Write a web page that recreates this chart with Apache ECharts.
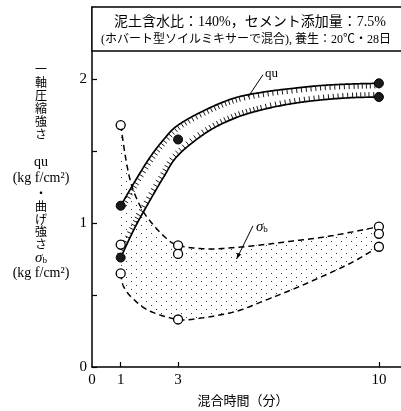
<!DOCTYPE html>
<html>
<head>
<meta charset="utf-8">
<script src="https://cdn.jsdelivr.net/npm/echarts@6/dist/echarts.min.js"></script>
<style>
html, body { margin: 0; padding: 0; background: #fff; }
#c { width: 401px; height: 411px; }
</style>
</head>
<body>
<div id="c"></div>
<script>
// Axis ticks and labels (mixing time in minutes, strength in kgf/cm2)
const xTickValues = [1, 3, 10];
const xLabelValues = [0, 1, 3, 10];
const yLabelValues = [0, 1, 2];

// Measured unconfined compressive strength qu (filled markers)
const quPoints = [[1, 1.12], [1, 0.76], [3, 1.58], [10, 1.97], [10, 1.875]];
// Measured bending strength sigma_b (open markers)
const sbPoints = [[1, 1.68], [1, 0.85], [1, 0.65], [3, 0.845], [3, 0.785], [3, 0.33], [10, 0.975], [10, 0.925], [10, 0.835]];

// Envelope of the qu band
const quUpper = [[1, 1.12], [1.5, 1.29], [2, 1.45], [2.5, 1.58], [3, 1.68], [4, 1.79], [5, 1.87], [6, 1.91], [7, 1.935], [8, 1.955], [9, 1.965], [10, 1.97]];
const quLower = [[1, 0.76], [1.5, 0.97], [2, 1.15], [2.5, 1.32], [3, 1.47], [4, 1.63], [5, 1.73], [6, 1.79], [7, 1.83], [8, 1.855], [9, 1.87], [10, 1.875]];

// Envelope of the sigma_b band
const sbUpper = [[1, 1.68], [1.2, 1.42], [1.4, 1.25], [1.7, 1.11], [2, 1.02], [2.5, 0.91], [3, 0.845], [4, 0.82], [5, 0.83], [6, 0.85], [7, 0.875], [8, 0.9], [9, 0.935], [10, 0.975]];
const sbLower = [[1, 0.65], [1.1, 0.56], [1.4, 0.48], [2, 0.39], [3, 0.33], [3.8, 0.34], [5, 0.385], [6, 0.46], [7, 0.54], [7.7, 0.6], [9, 0.72], [10, 0.835]];

// Leader lines for the two band labels
const quLeader = [[5.44, 1.875], [5.96, 2.03]];
const sbLeader = [[5.61, 0.98], [5.04, 0.75]];

const chart = echarts.init(document.getElementById('c'), null, { renderer: 'canvas' });

// stipple pattern for the sigma_b band
function makeStipple() {
  const cv = document.createElement('canvas');
  cv.width = 10; cv.height = 8;
  const g = cv.getContext('2d');
  g.fillStyle = '#333';
  g.fillRect(1, 1, 1, 1);
  g.fillRect(6, 5, 1, 1);
  return cv;
}
const stipple = makeStipple();

// Catmull-Rom spline through pixel points
function spline(pts, seg) {
  const out = [];
  for (let i = 0; i < pts.length - 1; i++) {
    const p0 = pts[i - 1] || pts[i], p1 = pts[i], p2 = pts[i + 1], p3 = pts[i + 2] || pts[i + 1];
    for (let s = 0; s < seg; s++) {
      const t = s / seg, t2 = t * t, t3 = t2 * t;
      const f = k => 0.5 * (2 * p1[k] + (-p0[k] + p2[k]) * t + (2 * p0[k] - 5 * p1[k] + 4 * p2[k] - p3[k]) * t2 + (-p0[k] + 3 * p1[k] - 3 * p2[k] + p3[k]) * t3);
      out.push([f(0), f(1)]);
    }
  }
  out.push(pts[pts.length - 1].slice());
  return out;
}

// short hatch strokes along one side of a curve
function hatch(samples, dir, spacing, len) {
  const els = [];
  let acc = spacing / 2;
  for (let i = 1; i < samples.length; i++) {
    const dx = samples[i][0] - samples[i - 1][0];
    const dy = samples[i][1] - samples[i - 1][1];
    const L = Math.hypot(dx, dy);
    acc += L;
    if (acc >= spacing && L > 0) {
      acc = 0;
      const nx = -dy / L * dir, ny = dx / L * dir;
      const p = samples[i];
      els.push({
        type: 'line',
        shape: { x1: p[0] + nx * 0.5, y1: p[1] + ny * 0.5, x2: p[0] + nx * len, y2: p[1] + ny * len },
        style: { stroke: '#000', lineWidth: 0.9 }
      });
    }
  }
  return els;
}

function renderBands(params, api) {
  const px = arr => arr.map(p => api.coord(p));
  const sU = spline(px(sbUpper), 24);
  const sL = spline(px(sbLower), 24);
  const qU = spline(px(quUpper), 24);
  const qL = spline(px(quLower), 24);
  const children = [];

  // stippled sigma_b band
  children.push({
    type: 'polygon',
    shape: { points: sU.concat(sL.slice().reverse()) },
    style: { fill: { image: stipple, repeat: 'repeat' }, stroke: null },
    z2: 1
  });
  const dashStyle = { stroke: '#000', lineWidth: 1.5, lineDash: [6, 4], fill: null };
  children.push({ type: 'polyline', shape: { points: sU }, style: dashStyle, z2: 2 });
  children.push({ type: 'polyline', shape: { points: sL }, style: dashStyle, z2: 2 });

  // hatched qu band
  hatch(qU, 1, 3.7, 5).forEach(e => children.push(e));
  hatch(qL, -1, 3.7, 5).forEach(e => children.push(e));
  const solid = { stroke: '#000', lineWidth: 1.7, fill: null };
  children.push({ type: 'polyline', shape: { points: qU }, style: solid, z2: 3 });
  children.push({ type: 'polyline', shape: { points: qL }, style: solid, z2: 3 });

  // leaders
  const a = px(quLeader);
  children.push({ type: 'line', shape: { x1: a[0][0], y1: a[0][1], x2: a[1][0], y2: a[1][1] }, style: { stroke: '#000', lineWidth: 1 } });
  const b = px(sbLeader);
  children.push({ type: 'line', shape: { x1: b[0][0], y1: b[0][1], x2: b[1][0], y2: b[1][1] }, style: { stroke: '#000', lineWidth: 1 } });
  const ang = Math.atan2(b[1][1] - b[0][1], b[1][0] - b[0][0]);
  const tip = b[1], hl = 6, hw = 2.2;
  const bx = tip[0] - Math.cos(ang) * hl, by = tip[1] - Math.sin(ang) * hl;
  children.push({
    type: 'polygon',
    shape: { points: [tip, [bx - Math.sin(ang) * hw, by + Math.cos(ang) * hw], [bx + Math.sin(ang) * hw, by - Math.cos(ang) * hw]] },
    style: { fill: '#000' }
  });

  // band labels
  children.push({
    type: 'text',
    style: { text: 'qu', x: a[1][0] + 2, y: a[1][1] - 1, font: '13px "Liberation Serif", serif', fill: '#000', verticalAlign: 'middle', align: 'left' }
  });
  children.push({
    type: 'text',
    style: {
      text: '{s|σ}{b|b}', x: b[0][0] + 3, y: b[0][1] + 1, verticalAlign: 'middle', align: 'left',
      rich: {
        s: { font: 'italic 15px "Liberation Serif", serif', fill: '#000' },
        b: { font: '9px "Liberation Serif", serif', fill: '#000', padding: [6, 0, 0, 0] }
      }
    }
  });
  return { type: 'group', children: children };
}

const serif = '"Liberation Serif", "Noto Sans CJK JP", serif';
const cjk = '"Liberation Serif", "Noto Sans CJK JP", sans-serif';

// vertical y-axis title, one glyph per row
const yTitle = [
  ['一', 71], ['軸', 84], ['圧', 97], ['縮', 110], ['強', 123], ['さ', 136],
  ['qu', 162], ['(kg f/cm²)', 178], ['・', 195],
  ['曲', 208], ['げ', 220.5], ['強', 233], ['さ', 245.5], ['(kg f/cm²)', 273]
];

const graphics = yTitle.map(([t, y]) => ({
  type: 'text',
  style: {
    text: t, x: 41, y: y, align: 'center', verticalAlign: 'middle',
    font: (t.length > 1 ? '14px ' : '12px ') + cjk, fill: '#000'
  }
}));
graphics.push({
  type: 'text',
  style: {
    text: '{s|σ}{b|b}', x: 41, y: 258, align: 'center', verticalAlign: 'middle',
    rich: {
      s: { font: 'italic 15px "Liberation Serif", serif', fill: '#000' },
      b: { font: '9px "Liberation Serif", serif', fill: '#000', padding: [6, 0, 0, 0] }
    }
  }
});
// condition caption box
graphics.push({
  type: 'rect',
  shape: { x: 92, y: 7, width: 312, height: 44 },
  style: { fill: '#fff', stroke: '#000', lineWidth: 1.3 },
  z: 10
});
graphics.push({
  type: 'text', z: 11,
  style: { text: '泥土含水比：140%，セメント添加量：7.5%', x: 250, y: 22, align: 'center', verticalAlign: 'middle', font: '14px ' + cjk, fill: '#000' }
});
graphics.push({
  type: 'text', z: 11,
  style: { text: '(ホバート型ソイルミキサーで混合), 養生：20℃・28日', x: 246, y: 40, align: 'center', verticalAlign: 'middle', font: '12px ' + cjk, fill: '#000' }
});
graphics.push({
  type: 'text',
  style: { text: '混合時間（分）', x: 243, y: 402, align: 'center', verticalAlign: 'middle', font: '13px ' + cjk, fill: '#000' }
});

chart.setOption({
  animation: false,
  backgroundColor: '#fff',
  grid: { left: 92, right: 0, top: 7, bottom: 44, containLabel: false },
  xAxis: {
    type: 'value', min: 0, max: 10.77,
    axisLine: { show: true, onZero: false, lineStyle: { color: '#000', width: 1.5 } },
    axisTick: { show: true, inside: true, length: 5, customValues: xTickValues, lineStyle: { color: '#000', width: 1.2 } },
    axisLabel: { customValues: xLabelValues, color: '#000', fontFamily: serif, fontSize: 15, margin: 6 },
    splitLine: { show: false }
  },
  yAxis: {
    type: 'value', min: 0, max: 2.5, interval: 0.5,
    axisLine: { show: true, lineStyle: { color: '#000', width: 1.5 } },
    axisTick: { show: true, inside: true, length: 5, lineStyle: { color: '#000', width: 1.2 } },
    axisLabel: {
      color: '#000', fontFamily: serif, fontSize: 15, margin: 5,
      formatter: v => (yLabelValues.indexOf(v) >= 0 ? String(v) : '')
    },
    splitLine: { show: false }
  },
  graphic: graphics,
  series: [
    {
      type: 'custom', coordinateSystem: 'cartesian2d', silent: true,
      data: [[0, 0]], encode: { x: 0, y: 1 },
      renderItem: renderBands, z: 2
    },
    {
      type: 'scatter', data: sbPoints, symbol: 'circle', symbolSize: 9, z: 5, silent: true,
      itemStyle: { color: '#fff', borderColor: '#000', borderWidth: 1.3, opacity: 1 }
    },
    {
      type: 'scatter', data: quPoints, symbol: 'circle', symbolSize: 9, z: 6, silent: true,
      itemStyle: { color: '#1a1a1a', borderColor: '#000', borderWidth: 1, opacity: 1 }
    }
  ]
});
</script>
</body>
</html>
